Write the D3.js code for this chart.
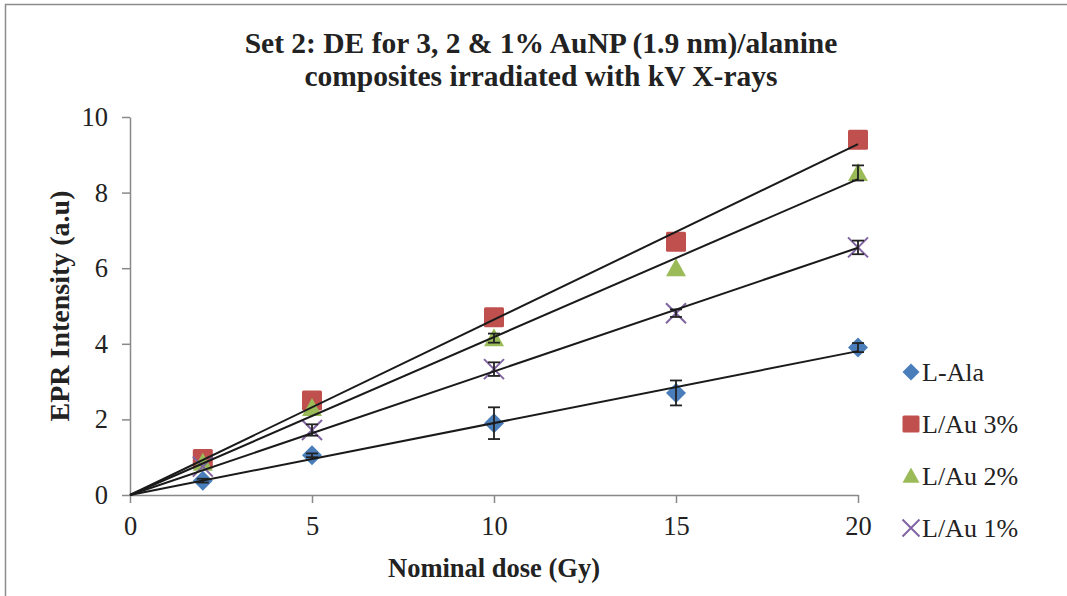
<!DOCTYPE html>
<html>
<head>
<meta charset="utf-8">
<script src="https://cdn.jsdelivr.net/npm/d3@7"></script>
<style>
  body { margin: 0; background: #fff; }
  text { font-family: "Liberation Serif", "Times New Roman", serif; fill: #222; }
</style>
</head>
<body>
<svg id="chart" width="1067" height="596"></svg>
<script>
const doses = [2, 5, 10, 15, 20]
const seriesNames = ['L-Ala', 'L/Au 3%', 'L/Au 2%', 'L/Au 1%']
const alaValues = [0.38, 1.05, 1.9, 2.7, 3.9]
const au3Values = [0.95, 2.5, 4.7, 6.7, 9.4]
const au2Values = [0.85, 2.3, 4.15, 6.0, 8.52]
const au1Values = [0.75, 1.72, 3.33, 4.81, 6.55]
const alaErrors = [0.05, 0.05, 0.42, 0.33, 0.12]
const au3Errors = [0, 0, 0, 0, 0]
const au2Errors = [0, 0, 0.12, 0, 0.2]
const au1Errors = [0, 0.15, 0.18, 0.1, 0.18]
const xTicks = [0, 5, 10, 15, 20]
const yTicks = [0, 2, 4, 6, 8, 10]

const colors = ['#4a7ebb', '#c0504d', '#9bbb59', '#8064a2']
const shapes = ['diamond', 'square', 'triangle', 'cross']

const series = [alaValues, au3Values, au2Values, au1Values].map((vals, i) => ({
    name: seriesNames[i],
    color: colors[i],
    shape: shapes[i],
    points: vals.map((v, j) => ({ x: doses[j], y: v, err: [alaErrors, au3Errors, au2Errors, au1Errors][i][j] }))
}))

// linear trendline forced through origin
series.forEach(s => {
    const sxy = d3.sum(s.points, p => p.x * p.y)
    const sxx = d3.sum(s.points, p => p.x * p.x)
    s.slope = sxy / sxx
})

const svg = d3.select('#chart')

// outer frame
svg.append('rect')
    .attr('x', 5.5).attr('y', 4.5)
    .attr('width', 1070).attr('height', 600)
    .attr('fill', 'none').attr('stroke', '#8c8c8c').attr('stroke-width', 1.5)

const x = d3.scaleLinear().domain([0, 20]).range([130, 858])
const y = d3.scaleLinear().domain([0, 10]).range([495, 117])

// title
svg.append('text').attr('x', 541).attr('y', 53).attr('text-anchor', 'middle')
    .style('font-weight', 'bold').style('font-size', '29.5px')
    .text('Set 2: DE for 3, 2 & 1% AuNP (1.9 nm)/alanine')
svg.append('text').attr('x', 541).attr('y', 86).attr('text-anchor', 'middle')
    .style('font-weight', 'bold').style('font-size', '29.5px')
    .text('composites irradiated with kV X-rays')

// axes
const xAxis = svg.append('g').attr('transform', `translate(0,${y(0)})`)
    .call(d3.axisBottom(x).tickValues(xTicks).tickSize(8).tickPadding(13).tickSizeOuter(0))
const yAxis = svg.append('g').attr('transform', `translate(${x(0)},0)`)
    .call(d3.axisLeft(y).tickValues(yTicks).tickSize(8).tickPadding(14).tickSizeOuter(0))

;[xAxis, yAxis].forEach(g => {
    g.select('.domain').attr('stroke', '#888').attr('stroke-width', 1.5)
    g.selectAll('.tick line').attr('stroke', '#888').attr('stroke-width', 1.5)
    g.selectAll('.tick text')
        .style('font-family', '"Liberation Serif", serif')
        .style('font-size', '26.5px').attr('fill', '#222')
})

svg.append('text').attr('x', 494).attr('y', 577).attr('text-anchor', 'middle')
    .style('font-weight', 'bold').style('font-size', '26.5px')
    .text('Nominal dose (Gy)')
svg.append('text')
    .attr('transform', `translate(69,${(y(0) + y(10)) / 2}) rotate(-90)`)
    .attr('text-anchor', 'middle')
    .style('font-weight', 'bold').style('font-size', '28px')
    .text('EPR Intensity (a.u)')

function drawMarker(g, shape, color, size) {
    const h = size / 2
    if (shape === 'diamond') {
        g.append('path').attr('d', `M0,${-h}L${h},0L0,${h}L${-h},0Z`).attr('fill', color)
    } else if (shape === 'square') {
        g.append('rect').attr('x', -h).attr('y', -h).attr('width', size).attr('height', size)
            .attr('rx', 1.5).attr('fill', color)
    } else if (shape === 'triangle') {
        g.append('path').attr('d', `M0,${-h}L${h},${h * 0.8}L${-h},${h * 0.8}Z`).attr('fill', color)
    } else {
        g.append('path').attr('d', `M${-h},${-h}L${h},${h}M${h},${-h}L${-h},${h}`)
            .attr('stroke', color).attr('stroke-width', 2).attr('fill', 'none')
    }
}

// markers
series.forEach(s => {
    const g = svg.append('g')
    s.points.forEach(p => {
        const m = g.append('g').attr('transform', `translate(${x(p.x)},${y(p.y)})`)
        drawMarker(m, s.shape, s.color, 20)
    })
})

// error bars
series.forEach(s => {
    s.points.filter(p => p.err > 0).forEach(p => {
        const cx = x(p.x), y1 = y(p.y - p.err), y2 = y(p.y + p.err)
        const e = svg.append('g').attr('stroke', '#222').attr('stroke-width', 1.8)
        e.append('line').attr('x1', cx).attr('x2', cx).attr('y1', y1).attr('y2', y2)
        e.append('line').attr('x1', cx - 6).attr('x2', cx + 6).attr('y1', y1).attr('y2', y1)
        e.append('line').attr('x1', cx - 6).attr('x2', cx + 6).attr('y1', y2).attr('y2', y2)
    })
})

// trendlines
series.forEach(s => {
    svg.append('line')
        .attr('x1', x(0)).attr('y1', y(0))
        .attr('x2', x(20)).attr('y2', y(20 * s.slope))
        .attr('stroke', '#1a1a1a').attr('stroke-width', 2)
})

// legend
const legend = svg.append('g')
series.forEach((s, i) => {
    const row = legend.append('g').attr('transform', `translate(911,${372 + i * 52})`)
    drawMarker(row.append('g'), s.shape, s.color, 17)
    row.append('text').attr('x', 11).attr('y', 9)
        .style('font-size', '26px').text(s.name)
})
</script>
</body>
</html>
